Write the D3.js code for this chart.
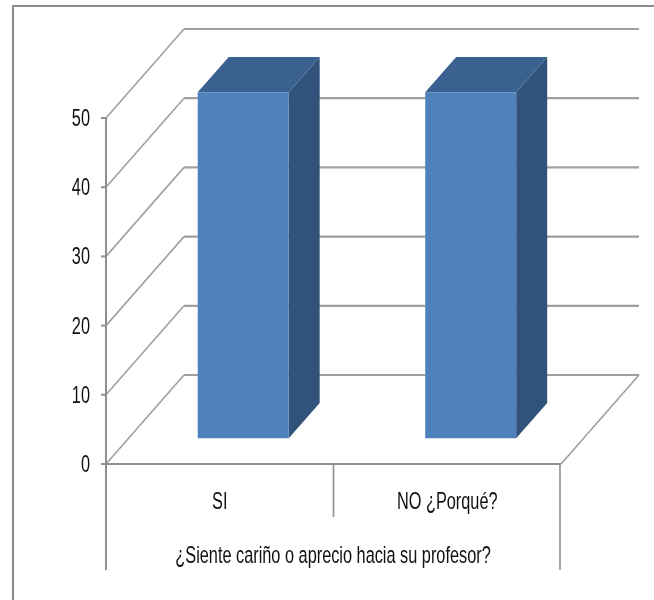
<!DOCTYPE html>
<html><head><meta charset="utf-8">
<script src="https://cdn.jsdelivr.net/npm/d3@7"></script>
<style>
html,body{margin:0;padding:0;background:#fff}
svg{display:block;filter:blur(0.45px)}
text{font-family:"Liberation Sans Narrow","Liberation Sans",sans-serif;fill:#111}
</style></head><body>
<svg id="c" width="654" height="600"></svg>
<script>
const categories = ["SI", "NO ¿Porqué?"];
const values = [50, 50];
const yTicks = [0, 10, 20, 30, 40, 50];
const groupLabel = "¿Siente cariño o aprecio hacia su profesor?";

const svg = d3.select("#c");
const x = d3.scaleBand().domain(categories).range([107, 562]).paddingInner(0.6).paddingOuter(0.3);
const band = d3.scaleBand().domain(categories).range([106, 561]);
const y = d3.scaleLinear().domain([0, 50]).range([464, 118]);
const depthX = d3.scaleLinear().domain([0, 1]).range([0, 78]);
const depthY = d3.scaleLinear().domain([0, 1]).range([0, -89]);
const P = (px, py, z) => [px + depthX(z), py + depthY(z)];
const line = d3.line();
const gridCol = "#a0a0a0", axisCol = "#8f8f8f";
const barZ0 = 0.288, barZ1 = 0.685;

// outer frame
svg.append("path").attr("d", line([[13, 600], [13, 6], [654, 6]]))
  .attr("fill", "none").attr("stroke", "#8a8a8a").attr("stroke-width", 2);

// walls: gridlines + diagonals
const wall = svg.append("g").attr("fill", "none").attr("stroke", gridCol);
yTicks.forEach(t => {
  wall.append("path").attr("stroke-width", 2.2).attr("d", line([P(561, y(t), 1), P(106, y(t), 1)]));
  wall.append("path").attr("stroke-width", 1.6).attr("d", line([P(106, y(t), 0), P(106, y(t), 1)]));
});
wall.append("path").attr("stroke-width", 1.6).attr("d", line([P(561, y(0), 0), P(561, y(0), 1)]));

// bars
const bars = svg.append("g").selectAll("g").data(categories.map((c, i) => ({c, v: values[i]}))).join("g");
const poly = (col, fn) => bars.append("path").attr("fill", col).attr("d", d => line(fn(d)) + "Z");
poly("#31527a", d => {
  const r = x(d.c) + x.bandwidth();
  return [P(r, y(0), barZ0), P(r, y(0), barZ1), P(r, y(d.v), barZ1), P(r, y(d.v), barZ0)];
});
poly("#3b6190", d => {
  const l = x(d.c), r = l + x.bandwidth();
  return [P(l, y(d.v), barZ0), P(l, y(d.v), barZ1), P(r, y(d.v), barZ1), P(r, y(d.v), barZ0)];
});
poly("#4f81bd", d => {
  const l = x(d.c), r = l + x.bandwidth();
  return [P(l, y(0), barZ0), P(r, y(0), barZ0), P(r, y(d.v), barZ0), P(l, y(d.v), barZ0)];
});

// axes
const ax = svg.append("g").attr("fill", "none").attr("stroke", axisCol);
ax.append("path").attr("stroke-width", 2).attr("d", line([[106, y(50)], [106, 570]]));
ax.append("path").attr("stroke-width", 2.2).attr("d", line([[106, y(0)], [561, y(0)]]));
ax.append("path").attr("stroke-width", 1.6).attr("d", line([[560, y(0)], [560, 570]]));
ax.append("path").attr("stroke-width", 1.6).attr("d", line([[band(categories[1]), y(0)], [band(categories[1]), 517]]));
yTicks.forEach(t => ax.append("path").attr("stroke-width", 2).attr("d", line([[101, y(t)], [106, y(t)]])));

// labels
const vText = (px, py, s, anchor) => svg.append("text")
  .attr("transform", `translate(${px},${py}) scale(0.96,1.38)`)
  .attr("text-anchor", anchor).attr("font-size", 17).text(s);
yTicks.forEach(t => vText(90, y(t) + 8, t, "end"));
categories.forEach(c => vText(band(c) + band.bandwidth() / 2, 509, c, "middle"));
vText(333, 563, groupLabel, "middle");
</script></body></html>
